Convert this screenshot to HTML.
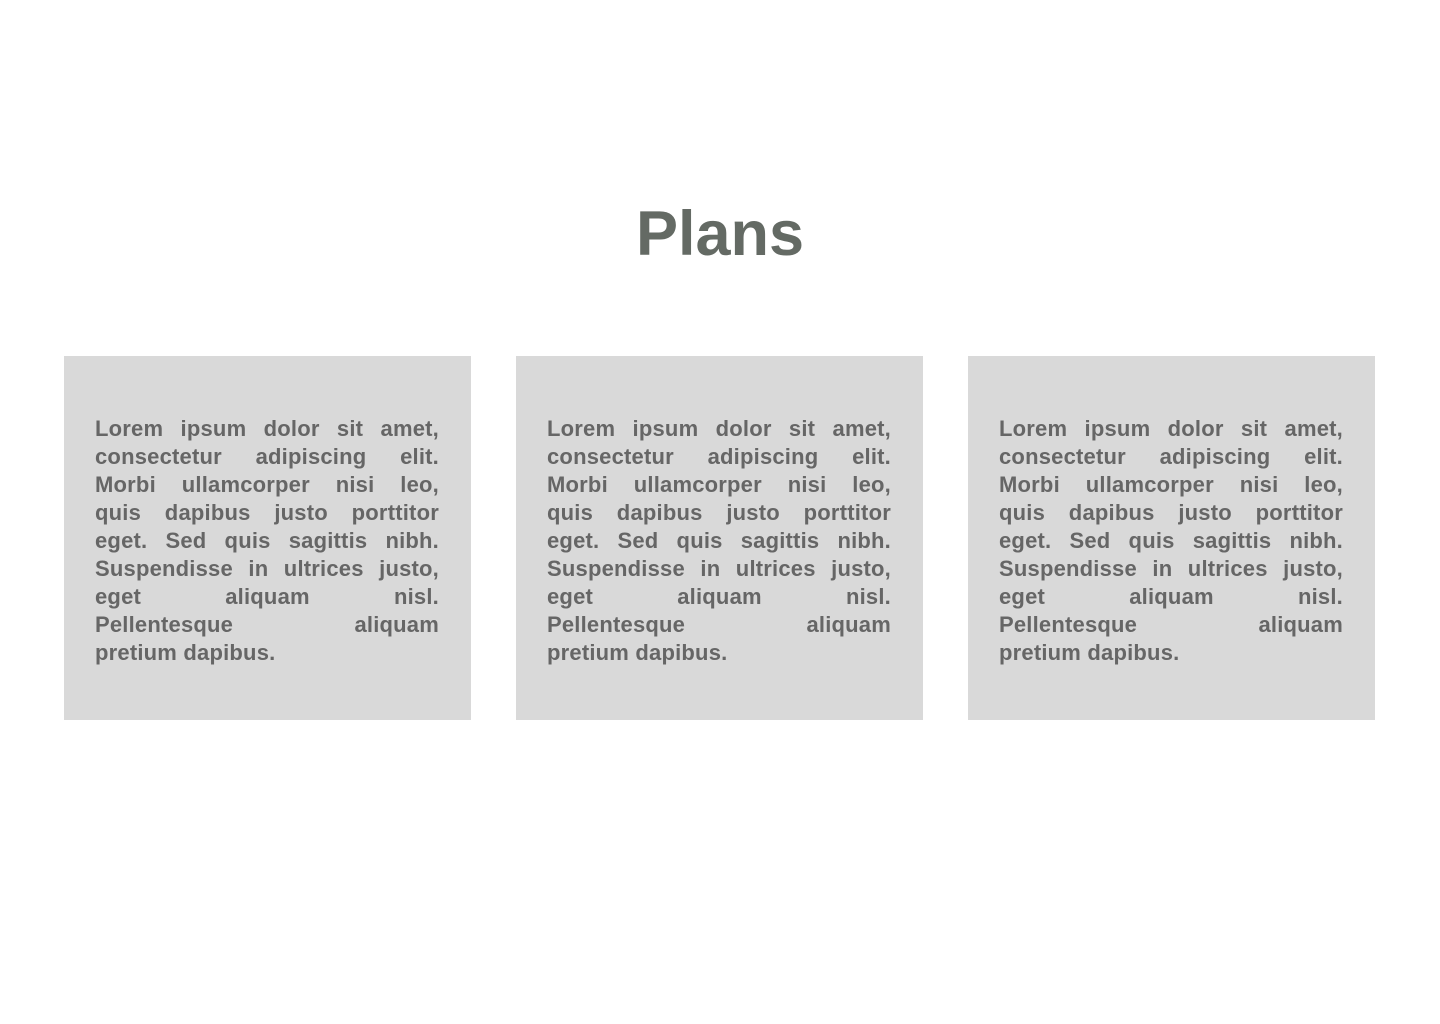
<!DOCTYPE html>
<html><head><meta charset="utf-8"><style>
html,body{margin:0;padding:0;background:#fff;}
body{width:1440px;height:1024px;position:relative;overflow:hidden;font-family:"Liberation Sans",sans-serif;}
h1{position:absolute;left:0;width:1440px;top:194px;margin:0;text-align:center;font-size:63px;font-weight:bold;color:#646a64;line-height:80px;}
.box{position:absolute;top:356px;width:407px;height:364px;background:#d9d9d9;}
.t{position:absolute;left:31px;top:59px;width:344px;}
.l{display:block;height:28px;line-height:28px;font-size:22px;font-weight:bold;color:#666;text-align:justify;text-align-last:justify;white-space:nowrap;letter-spacing:0.2px;}
.l.last{text-align-last:left;}
</style></head><body>
<h1>Plans</h1>
<div class="box" style="left:64px"><div class="t">
<span class="l">Lorem ipsum dolor sit amet,</span><span class="l">consectetur adipiscing elit.</span><span class="l">Morbi ullamcorper nisi leo,</span><span class="l">quis dapibus justo porttitor</span><span class="l">eget. Sed quis sagittis nibh.</span><span class="l">Suspendisse in ultrices justo,</span><span class="l">eget aliquam nisl.</span><span class="l">Pellentesque aliquam</span><span class="l last">pretium dapibus.</span>
</div></div>
<div class="box" style="left:516px"><div class="t">
<span class="l">Lorem ipsum dolor sit amet,</span><span class="l">consectetur adipiscing elit.</span><span class="l">Morbi ullamcorper nisi leo,</span><span class="l">quis dapibus justo porttitor</span><span class="l">eget. Sed quis sagittis nibh.</span><span class="l">Suspendisse in ultrices justo,</span><span class="l">eget aliquam nisl.</span><span class="l">Pellentesque aliquam</span><span class="l last">pretium dapibus.</span>
</div></div>
<div class="box" style="left:968px"><div class="t">
<span class="l">Lorem ipsum dolor sit amet,</span><span class="l">consectetur adipiscing elit.</span><span class="l">Morbi ullamcorper nisi leo,</span><span class="l">quis dapibus justo porttitor</span><span class="l">eget. Sed quis sagittis nibh.</span><span class="l">Suspendisse in ultrices justo,</span><span class="l">eget aliquam nisl.</span><span class="l">Pellentesque aliquam</span><span class="l last">pretium dapibus.</span>
</div></div>
</body></html>
